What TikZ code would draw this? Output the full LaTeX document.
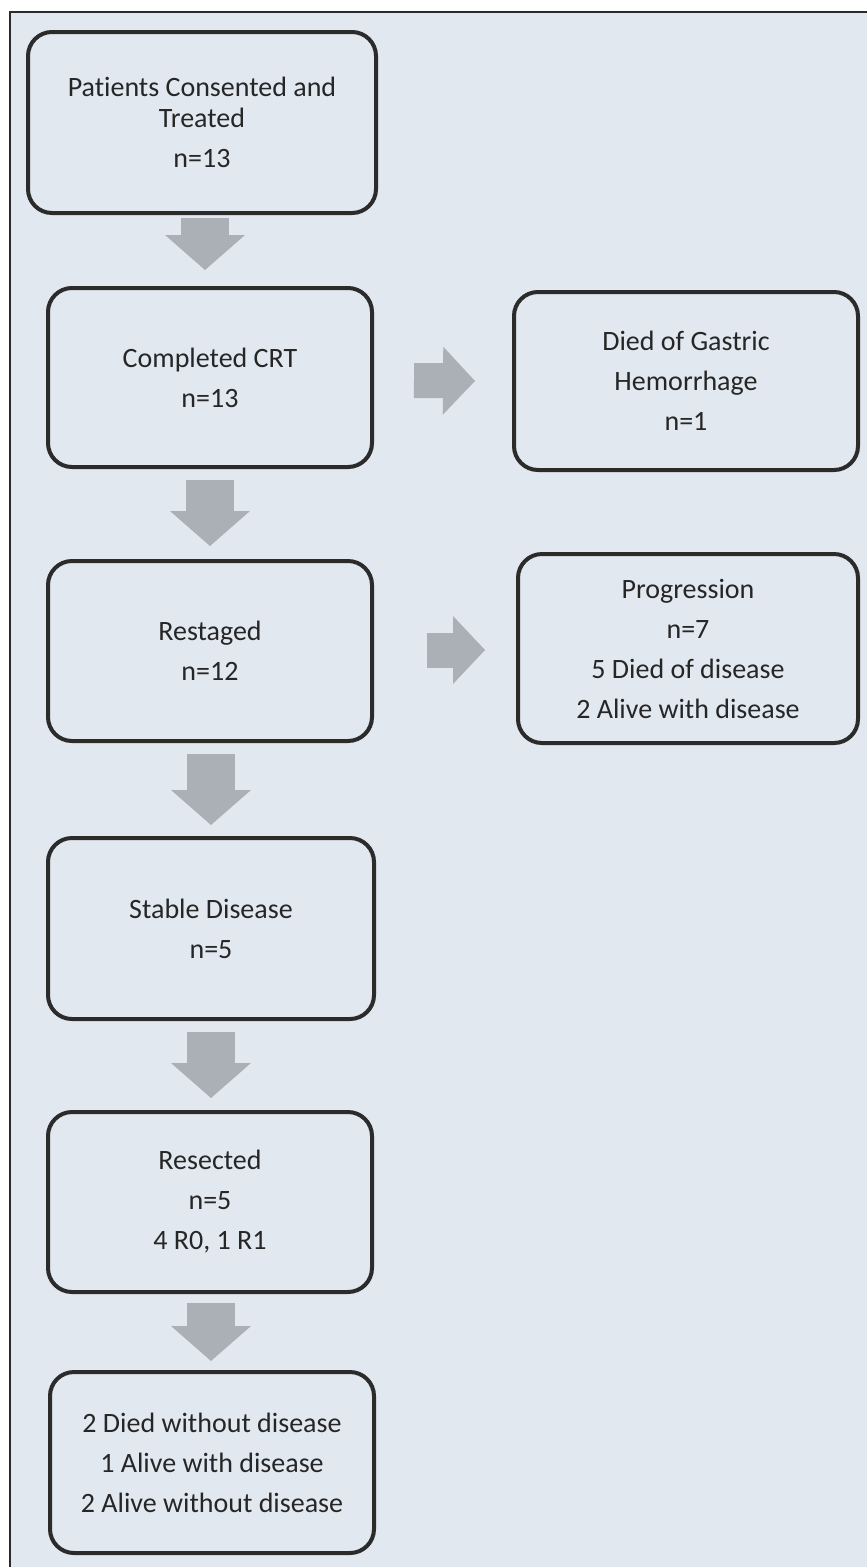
\documentclass[tikz,border=0pt]{standalone}
\usepackage{fontspec}
\setmainfont{Carlito}[Ligatures=NoCommon]
\usetikzlibrary{arrows.meta}
\definecolor{panel}{HTML}{E1E8F0}
\definecolor{boxline}{HTML}{2B2B2B}
\definecolor{arrowgray}{HTML}{ABB0B6}
\definecolor{textgray}{HTML}{262626}
\tikzset{
  stagebox/.style={draw=boxline, line width=4pt, rounded corners=24pt,
    inner sep=0pt, align=center, text=textgray,
    font=\fontsize{28}{40}\selectfont},
  downarrow/.style={draw=arrowgray, line width=48pt,
    -{Triangle[width=80pt,length=35pt,line width=0pt,fill=arrowgray]}},
  rightarrow/.style={draw=arrowgray, line width=35pt,
    -{Triangle[width=68pt,length=32pt,line width=0pt,fill=arrowgray]}}
}

\begin{document}
\begin{tikzpicture}[x=1pt,y=-1pt]
  \useasboundingbox (0,0) rectangle (867,1567);
  \draw[boxline, line width=2pt, fill=panel] (10,12) rectangle (900,1600);

  \node[stagebox, minimum width=348pt, minimum height=181pt] (treated) at (202,122.5)
    {Patients Consented and\\[-9pt] Treated\\ n=13};
  \node[stagebox, minimum width=324pt, minimum height=179pt] (crt) at (210,377.5)
    {Completed CRT\\ n=13};
  \node[stagebox, minimum width=344pt, minimum height=178pt] (died) at (686,381)
    {Died of Gastric\\ Hemorrhage\\ n=1};
  \node[stagebox, minimum width=324pt, minimum height=180pt] (restaged) at (210,651)
    {Restaged\\ n=12};
  \node[stagebox, minimum width=340pt, minimum height=189pt] (progression) at (688,648.5)
    {Progression\\ n=7\\ 5 Died of disease\\ 2 Alive with disease};
  \node[stagebox, minimum width=326pt, minimum height=181pt] (stable) at (211,928.5)
    {Stable Disease\\ n=5};
  \node[stagebox, minimum width=324pt, minimum height=180pt] (resected) at (210,1202)
    {Resected\\ n=5\\ 4 R0, 1 R1};
  \node[stagebox, minimum width=324pt, minimum height=181pt] (outcome) at (212,1462.5)
    {2 Died without disease\\ 1 Alive with disease\\ 2 Alive without disease};

  \draw[downarrow] ([xshift=3pt,yshift=-3pt]treated.south) -- ([xshift=-5pt,yshift=16pt]crt.north);
  \draw[downarrow] ([yshift=-11pt]crt.south) -- ([yshift=13pt]restaged.north);
  \draw[downarrow] ([xshift=1pt,yshift=-11pt]restaged.south) -- ([yshift=11pt]stable.north);
  \draw[downarrow] ([yshift=-11pt]stable.south) -- ([xshift=1pt,yshift=12pt]resected.north);
  \draw[downarrow] ([xshift=1pt,yshift=-9pt]resected.south) -- ([xshift=-1pt,yshift=9pt]outcome.north);

  \draw[rightarrow] ([xshift=40pt,yshift=-3pt]crt.east) -- ([xshift=-37pt]died.west);
  \draw[rightarrow] ([xshift=53pt,yshift=1pt]restaged.east) -- ([xshift=-31pt,yshift=-1.5pt]progression.west);
\end{tikzpicture}
\end{document}
